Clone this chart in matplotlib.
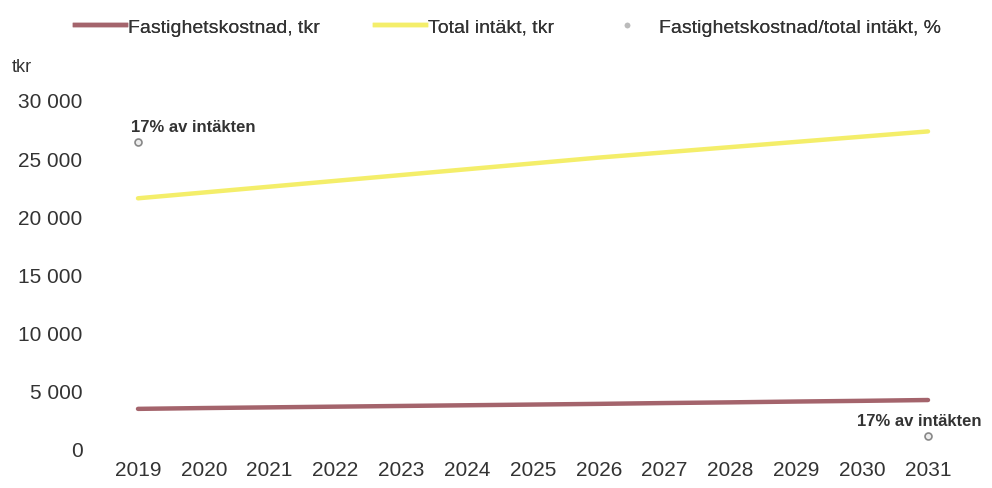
import matplotlib.pyplot as plt
from matplotlib.lines import Line2D

plt.rcParams['font.family'] = ['Liberation Sans', 'DejaVu Sans']

# Data
years = [2019, 2020, 2021, 2022, 2023, 2024, 2025, 2026, 2027, 2028, 2029, 2030, 2031]
fastighetskostnad = [3450, 3520, 3580, 3640, 3700, 3760, 3820, 3880, 3950, 4010, 4080, 4140, 4210]
total_intakt = [21550, 22050, 22550, 23050, 23550, 24050, 24550, 25050, 25500, 25950, 26400, 26850, 27300]
pct_years = [2019, 2031]
pct_values = [15.9, 15.4]
pct_labels = ['17% av intäkten', '17% av intäkten']
yticks = [0, 5000, 10000, 15000, 20000, 25000, 30000]
ytick_labels = ['0', '5 000', '10 000', '15 000', '20 000', '25 000', '30 000']
legend_labels = ['Fastighetskostnad, tkr', 'Total intäkt, tkr', 'Fastighetskostnad/total intäkt, %']

brown = '#a4646c'
yellow = '#f4ee6a'
textc = '#333333'

fig = plt.figure(figsize=(9.92, 4.89), dpi=100)
ax = fig.add_axes([138 / 992, 39 / 489, 790 / 992, 349 / 489])

ax.plot(years, fastighetskostnad, color=brown, lw=3.2, clip_on=False, solid_capstyle='round')
ax.plot(years, total_intakt, color=yellow, lw=3.2, clip_on=False, solid_capstyle='round')
ax.set_xlim(2019, 2031)
ax.set_ylim(0, 30000)
ax.set_xticks(years)
ax.set_xticklabels([str(y) for y in years], fontsize=15, color=textc)
ax.set_yticks(yticks)
ax.set_yticklabels(ytick_labels, fontsize=15, color=textc)
ax.tick_params(length=0, pad=8)
ax.tick_params(axis='y', pad=40)
for s in ax.spines.values():
    s.set_visible(False)

# procent på sekundär axel (dold)
ax2 = ax.twinx()
ax2.plot(pct_years, pct_values, ls='none', marker='o', ms=5, mfc='#eeeeee',
         mec='#888888', mew=1.2, clip_on=False)
ax2.set_ylim(15.378, 15.972)
ax2.set_yticks([])
for s in ax2.spines.values():
    s.set_visible(False)
ax2.annotate(pct_labels[0], (pct_years[0], pct_values[0]), xytext=(-5, 6),
             textcoords='offset points', fontsize=12, fontweight='bold', color=textc,
             ha='left', va='bottom')
ax2.annotate(pct_labels[1], (pct_years[1], pct_values[1]), xytext=(-51, 6),
             textcoords='offset points', fontsize=12, fontweight='bold', color=textc,
             ha='left', va='bottom')

fig.text(12 / 992, 1 - 68 / 489, 'tkr', fontsize=13, color=textc, va='center')

# legend, en post i taget
handles = [Line2D([], [], color=brown, lw=3.2),
           Line2D([], [], color=yellow, lw=3.2),
           Line2D([], [], ls='none', marker='o', ms=3, mfc='#bbbbbb', mec='#bbbbbb')]
legend_x = [75, 375, 598]
for h, lab, lx in zip(handles, legend_labels, legend_x):
    leg = fig.legend([h], [lab], loc='center left', bbox_to_anchor=(lx / 992, 1 - 28 / 489),
                     frameon=False, fontsize=14, handlelength=2.6 if lab != legend_labels[2] else 3.0,
                     handletextpad=0.15, borderpad=0, borderaxespad=0, labelcolor=textc)
    fig.add_artist(leg)

fig.savefig('out.png', dpi=100, facecolor='white')
